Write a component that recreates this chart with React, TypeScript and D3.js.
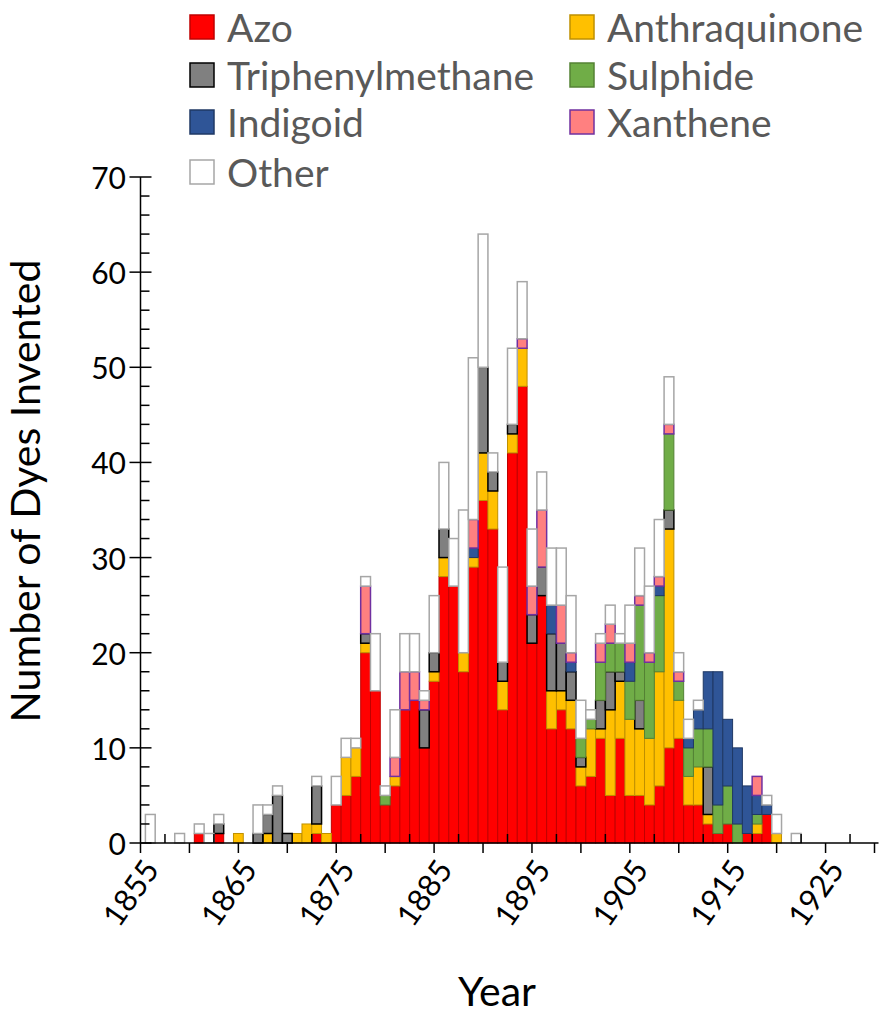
import { useEffect, useRef } from 'react';
import * as d3 from 'd3';

// one entry per year, 1856–1922
const years = [
  1856, 1857, 1858, 1859, 1860, 1861, 1862, 1863, 1864, 1865,
  1866, 1867, 1868, 1869, 1870, 1871, 1872, 1873, 1874, 1875,
  1876, 1877, 1878, 1879, 1880, 1881, 1882, 1883, 1884, 1885,
  1886, 1887, 1888, 1889, 1890, 1891, 1892, 1893, 1894, 1895,
  1896, 1897, 1898, 1899, 1900, 1901, 1902, 1903, 1904, 1905,
  1906, 1907, 1908, 1909, 1910, 1911, 1912, 1913, 1914, 1915,
  1916, 1917, 1918, 1919, 1920, 1921, 1922,
];

const azo = [
  0, 0, 0, 0, 0, 1, 0, 1, 0, 0,
  0, 0, 0, 0, 0, 0, 0, 1, 0, 4,
  5, 7, 20, 16, 4, 6, 14, 15, 10, 17,
  28, 27, 18, 29, 36, 33, 14, 41, 48, 21,
  26, 12, 14, 12, 6, 7, 11, 5, 11, 5,
  5, 4, 6, 10, 11, 4, 4, 2, 1, 2,
  0, 1, 1, 3, 0, 0, 0,
];

const anthraquinone = [
  0, 0, 0, 0, 0, 0, 0, 0, 0, 1,
  0, 0, 1, 0, 0, 1, 2, 1, 1, 0,
  4, 3, 1, 0, 0, 1, 0, 0, 0, 1,
  2, 0, 2, 1, 5, 4, 3, 2, 4, 0,
  0, 4, 2, 3, 2, 5, 1, 9, 6, 8,
  7, 7, 12, 23, 4, 3, 4, 1, 0, 0,
  0, 0, 1, 0, 1, 0, 0,
];

const triphenylmethane = [
  0, 0, 0, 0, 0, 0, 0, 1, 0, 0,
  0, 1, 2, 5, 1, 0, 0, 4, 0, 0,
  0, 0, 1, 0, 0, 0, 0, 0, 4, 2,
  3, 0, 0, 0, 9, 2, 2, 1, 0, 3,
  3, 6, 5, 3, 1, 0, 3, 4, 1, 0,
  3, 0, 0, 2, 0, 0, 0, 5, 0, 0,
  0, 0, 0, 0, 0, 0, 0,
];

const sulphide = [
  0, 0, 0, 0, 0, 0, 0, 0, 0, 0,
  0, 0, 0, 0, 0, 0, 0, 0, 0, 0,
  0, 0, 0, 0, 1, 0, 0, 0, 0, 0,
  0, 0, 0, 0, 0, 0, 0, 0, 0, 0,
  0, 0, 0, 0, 2, 1, 4, 3, 3, 4,
  10, 8, 8, 8, 2, 3, 4, 4, 3, 4,
  2, 0, 1, 0, 0, 0, 0,
];

const indigoid = [
  0, 0, 0, 0, 0, 0, 0, 0, 0, 0,
  0, 0, 0, 0, 0, 0, 0, 0, 0, 0,
  0, 0, 0, 0, 0, 0, 0, 0, 0, 0,
  0, 0, 0, 1, 0, 0, 0, 0, 0, 0,
  0, 3, 0, 1, 0, 0, 0, 0, 0, 2,
  0, 0, 1, 0, 0, 1, 2, 6, 14, 7,
  8, 5, 2, 1, 0, 0, 0,
];

const xanthene = [
  0, 0, 0, 0, 0, 0, 0, 0, 0, 0,
  0, 0, 0, 0, 0, 0, 0, 0, 0, 0,
  0, 0, 5, 0, 0, 2, 4, 3, 1, 0,
  0, 0, 0, 3, 0, 0, 0, 0, 1, 3,
  6, 0, 4, 1, 0, 0, 2, 2, 0, 2,
  1, 1, 1, 1, 1, 0, 0, 0, 0, 0,
  0, 0, 2, 0, 0, 0, 0,
];

const other = [
  3, 0, 0, 1, 0, 1, 1, 1, 0, 0,
  0, 3, 1, 1, 0, 0, 0, 1, 0, 3,
  2, 1, 1, 6, 1, 5, 4, 4, 1, 6,
  7, 5, 15, 17, 14, 2, 10, 8, 6, 6,
  4, 6, 6, 6, 4, 1, 1, 2, 1, 4,
  5, 7, 6, 5, 2, 2, 1, 0, 0, 0,
  0, 0, 0, 1, 2, 0, 1,
];

const yTicks = [0, 10, 20, 30, 40, 50, 60, 70];
const xLabels = [1855, 1865, 1875, 1885, 1895, 1905, 1915, 1925];

const series = [
  { key: 'Azo', values: azo, fill: '#FF0000', stroke: '#C00000', sw: 1 },
  { key: 'Anthraquinone', values: anthraquinone, fill: '#FFC000', stroke: '#BF9000', sw: 1 },
  { key: 'Triphenylmethane', values: triphenylmethane, fill: '#808080', stroke: '#000000', sw: 1.5 },
  { key: 'Sulphide', values: sulphide, fill: '#70AD47', stroke: '#548235', sw: 1 },
  { key: 'Indigoid', values: indigoid, fill: '#2F5597', stroke: '#1F3864', sw: 1 },
  { key: 'Xanthene', values: xanthene, fill: '#FF8080', stroke: '#7030A0', sw: 1.5 },
  { key: 'Other', values: other, fill: '#FFFFFF', stroke: '#A6A6A6', sw: 1.5 },
];

const FONT = 'Lato, "Open Sans", sans-serif';

export default function App() {
  const svgRef = useRef<SVGSVGElement>(null);

  useEffect(() => {
    if (!svgRef.current) return;
    document.body.style.margin = '0';

    const svg = d3.select(svgRef.current);
    svg.selectAll('*').remove();
    svg.attr('width', 896).attr('height', 1016);

    const x = d3.scaleLinear().domain([1855, 1930]).range([140.5, 874.5]);
    const y = d3.scaleLinear().domain([0, 70]).range([843, 177]);
    const barW = x(1856) - x(1855);

    // Stacked bars
    const rows = years.map((yr, i) => {
      const r: any = { year: yr };
      series.forEach((s) => (r[s.key] = s.values[i]));
      return r;
    });
    const stacked = d3.stack().keys(series.map((s) => s.key))(rows);

    stacked.forEach((layer, li) => {
      const s = series[li];
      svg.append('g')
        .selectAll('rect')
        .data(layer.filter((d) => d[1] > d[0]))
        .join('rect')
        .attr('x', (d: any) => x(d.data.year - 0.5))
        .attr('width', barW)
        .attr('y', (d) => y(d[1]))
        .attr('height', (d) => y(d[0]) - y(d[1]))
        .attr('fill', s.fill)
        .attr('stroke', s.stroke)
        .attr('stroke-width', s.sw);
    });

    // Y axis
    const ax = svg.append('g').attr('stroke', '#000').attr('stroke-width', 1.5);
    ax.append('line').attr('x1', x(1855)).attr('x2', x(1855)).attr('y1', y(70)).attr('y2', y(0));
    yTicks.forEach((t) => {
      ax.append('line').attr('x1', x(1855) - 11).attr('x2', x(1855) + 11).attr('y1', y(t)).attr('y2', y(t));
    });
    d3.range(2, 70, 2).filter((t) => t % 10 !== 0).forEach((t) => {
      ax.append('line').attr('x1', x(1855)).attr('x2', x(1855) + 9).attr('y1', y(t)).attr('y2', y(t));
    });

    // X axis
    ax.append('line').attr('x1', x(1855)).attr('x2', x(1930) + 4).attr('y1', y(0)).attr('y2', y(0));
    d3.range(1855, 1931, 5).forEach((t) => {
      ax.append('line').attr('x1', x(t)).attr('x2', x(t)).attr('y1', y(0)).attr('y2', y(0) + 10);
    });
    d3.range(1857.5, 1931, 5).forEach((t) => {
      ax.append('line').attr('x1', x(t)).attr('x2', x(t)).attr('y1', y(0) - 9).attr('y2', y(0));
    });

    // Tick labels
    yTicks.forEach((t) => {
      svg.append('text')
        .attr('x', 126)
        .attr('y', y(t))
        .attr('text-anchor', 'end')
        .attr('dominant-baseline', 'central')
        .attr('font-family', FONT)
        .attr('font-size', 30)
        .attr('fill', '#000')
        .text(t);
    });

    xLabels.forEach((t) => {
      svg.append('text')
        .attr('transform', `translate(${x(t) + 10},${y(0) + 20}) rotate(-55)`)
        .attr('text-anchor', 'end')
        .attr('dominant-baseline', 'central')
        .attr('font-family', FONT)
        .attr('font-size', 31)
        .attr('fill', '#000')
        .text(t);
    });

    // Axis titles
    svg.append('text')
      .attr('transform', `translate(40,491) rotate(-90)`)
      .attr('text-anchor', 'middle')
      .attr('font-family', FONT)
      .attr('font-size', 41)
      .attr('fill', '#000')
      .text('Number of Dyes Invented');

    svg.append('text')
      .attr('x', 497)
      .attr('y', 1006)
      .attr('text-anchor', 'middle')
      .attr('font-family', FONT)
      .attr('font-size', 41)
      .attr('fill', '#000')
      .text('Year');

    // Legend (two columns, row-wise)
    const rowY = [27, 75, 122, 172];
    const colX = [190, 570];
    series.forEach((s, i) => {
      const cx = colX[i % 2];
      const cy = rowY[Math.floor(i / 2)];
      svg.append('rect')
        .attr('x', cx)
        .attr('y', cy - 12)
        .attr('width', 24)
        .attr('height', 24)
        .attr('fill', s.fill)
        .attr('stroke', s.stroke)
        .attr('stroke-width', 1.5);
      svg.append('text')
        .attr('x', cx + 37)
        .attr('y', cy)
        .attr('dominant-baseline', 'central')
        .attr('font-family', FONT)
        .attr('font-size', 39)
        .attr('fill', '#595959')
        .text(s.key);
    });
  }, []);

  return <svg ref={svgRef} style={{ display: 'block' }} />;
}
